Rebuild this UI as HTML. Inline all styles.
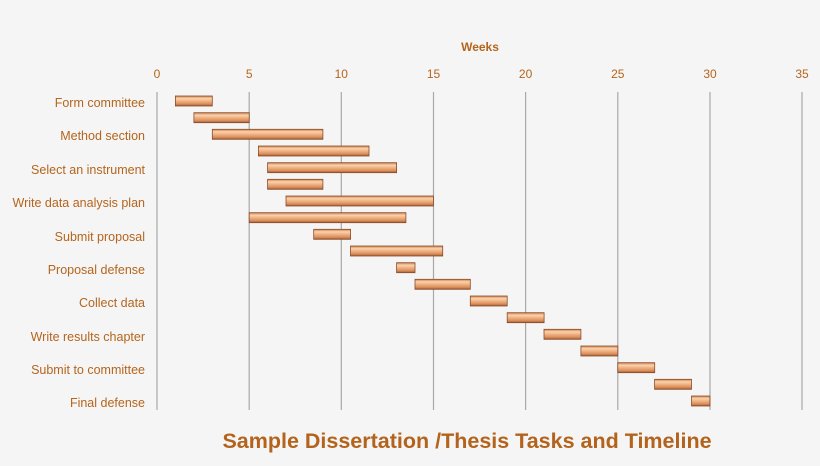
<!DOCTYPE html>
<html><head><meta charset="utf-8"><style>
body{margin:0;background:#f5f5f5;}
svg{display:block;font-family:"Liberation Sans",sans-serif;}
</style></head><body>
<svg width="820" height="466" viewBox="0 0 820 466">
<defs>
<linearGradient id="g" x1="0" y1="0" x2="0" y2="1">
<stop offset="0" stop-color="#c9804f"/>
<stop offset="0.25" stop-color="#fbd2ab"/>
<stop offset="0.5" stop-color="#f0b283"/>
<stop offset="0.8" stop-color="#d98d5a"/>
<stop offset="1" stop-color="#9c5a33"/>
</linearGradient>
</defs>
<rect width="820" height="466" fill="#f5f5f5"/>
<g stroke="#a8a8a8" stroke-width="1.2">
<line x1="157" y1="92" x2="157" y2="410"/>
<line x1="249.2" y1="92" x2="249.2" y2="410"/>
<line x1="341.3" y1="92" x2="341.3" y2="410"/>
<line x1="433.5" y1="92" x2="433.5" y2="410"/>
<line x1="525.6" y1="92" x2="525.6" y2="410"/>
<line x1="617.8" y1="92" x2="617.8" y2="410"/>
<line x1="710" y1="92" x2="710" y2="410"/>
<line x1="802" y1="92" x2="802" y2="410"/>
</g>
<g fill="#b5651d" font-size="12" text-anchor="middle">
<text x="480" y="51" font-weight="bold">Weeks</text>
<text x="157" y="78">0</text><text x="249.2" y="78">5</text><text x="341.3" y="78">10</text>
<text x="433.5" y="78">15</text><text x="525.6" y="78">20</text><text x="617.8" y="78">25</text>
<text x="710" y="78">30</text><text x="802" y="78">35</text>
</g>
<g fill="#b5651d" font-size="12.5" text-anchor="end">
<text x="145" y="107">Form committee</text>
<text x="145" y="140">Method section</text>
<text x="145" y="174">Select an instrument</text>
<text x="145" y="207">Write data analysis plan</text>
<text x="145" y="241">Submit proposal</text>
<text x="145" y="274">Proposal defense</text>
<text x="145" y="307">Collect data</text>
<text x="145" y="341">Write results chapter</text>
<text x="145" y="374">Submit to committee</text>
<text x="145" y="407">Final defense</text>
</g>
<g fill="url(#g)" stroke="#8a4c2a" stroke-width="0.8">
<rect x="175.4" y="96" width="36.9" height="10"/>
<rect x="193.9" y="112.7" width="55.3" height="10"/>
<rect x="212.3" y="129.3" width="110.6" height="10"/>
<rect x="258.4" y="146" width="110.6" height="10"/>
<rect x="267.6" y="162.7" width="129" height="10"/>
<rect x="267.6" y="179.3" width="55.3" height="10"/>
<rect x="286" y="196" width="147.4" height="10"/>
<rect x="249.2" y="212.7" width="156.7" height="10"/>
<rect x="313.7" y="229.3" width="36.9" height="10"/>
<rect x="350.5" y="246" width="92.2" height="10"/>
<rect x="396.6" y="262.7" width="18.4" height="10"/>
<rect x="415" y="279.3" width="55.3" height="10"/>
<rect x="470.3" y="296" width="36.9" height="10"/>
<rect x="507.2" y="312.7" width="36.9" height="10"/>
<rect x="544" y="329.3" width="36.9" height="10"/>
<rect x="580.9" y="346" width="36.9" height="10"/>
<rect x="617.8" y="362.7" width="36.9" height="10"/>
<rect x="654.6" y="379.3" width="36.9" height="10"/>
<rect x="691.5" y="396" width="18.4" height="10"/>
</g>
<text x="467" y="448" text-anchor="middle" fill="#b3631c" font-size="21.5" font-weight="bold">Sample Dissertation /Thesis Tasks and Timeline</text>
</svg>
</body></html>
